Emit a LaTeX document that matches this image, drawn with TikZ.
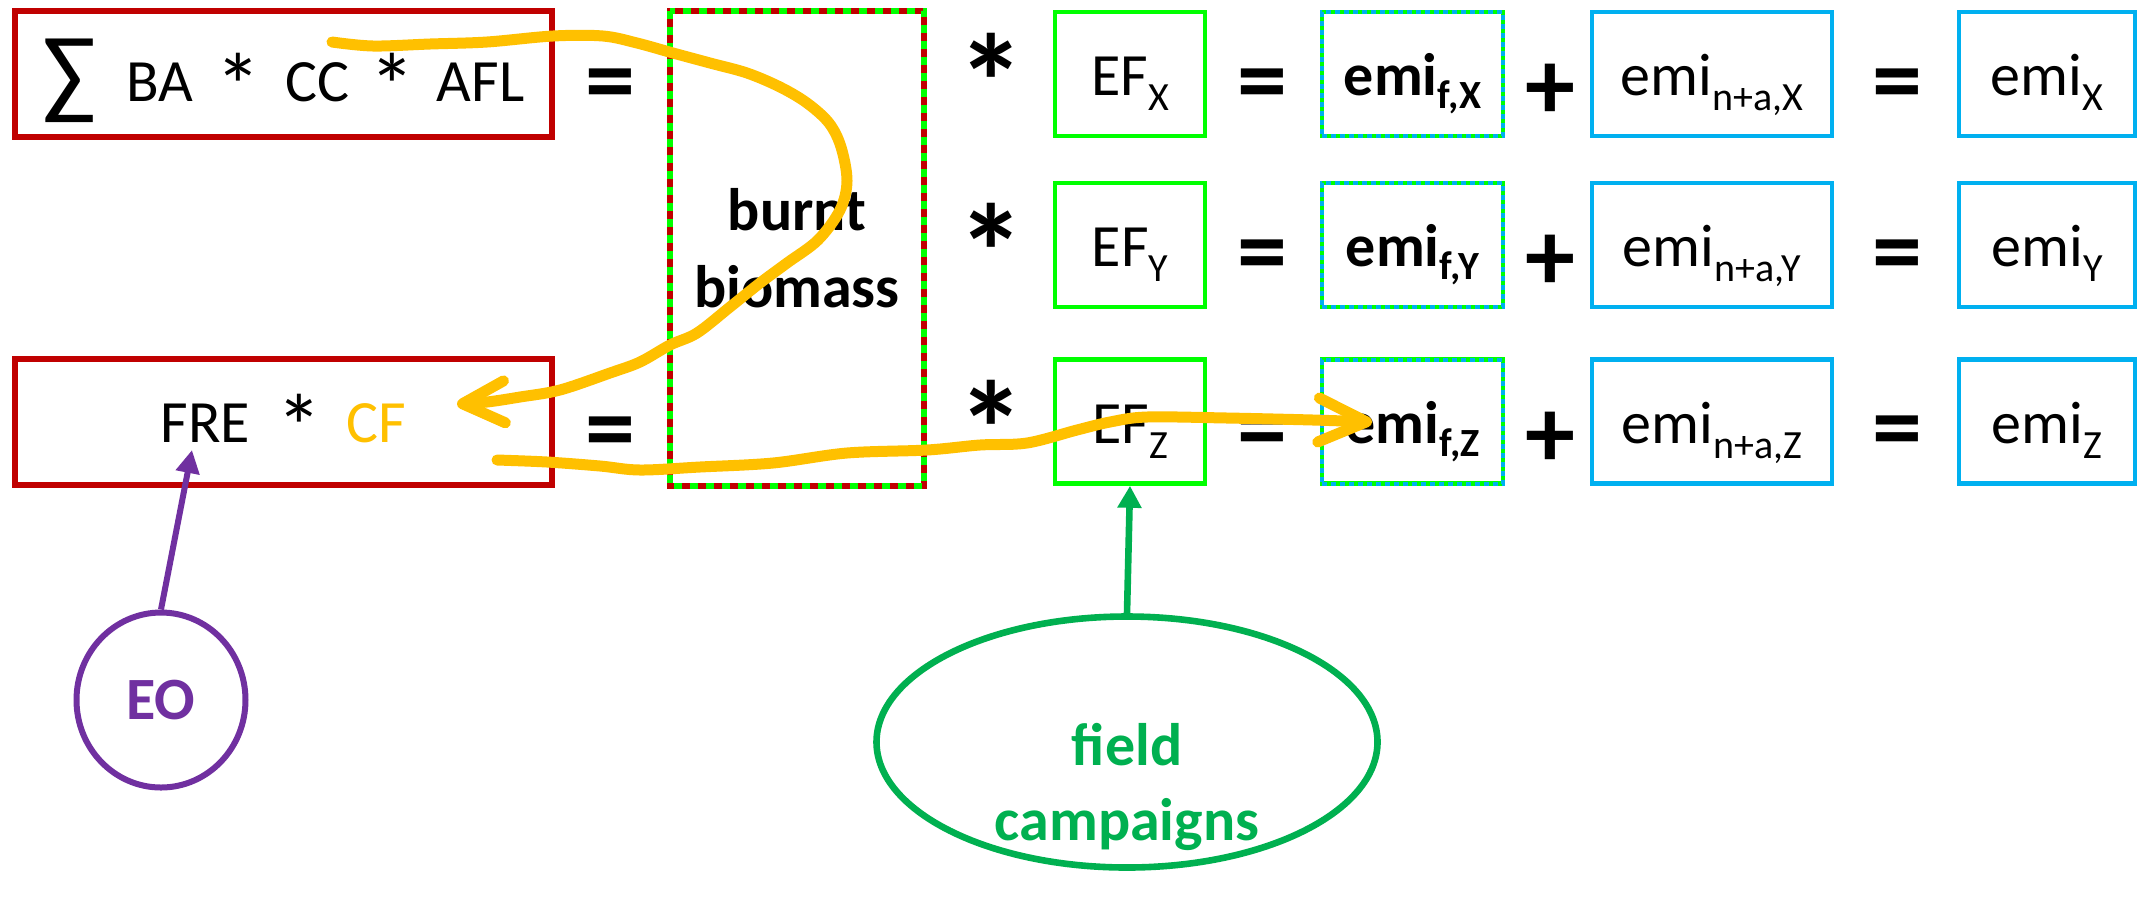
\documentclass[tikz,border=0pt]{standalone}
\usepackage{fontspec}
\setmainfont{Carlito}
\usetikzlibrary{arrows.meta,shapes.geometric}
\definecolor{rd}{HTML}{C00000}
\definecolor{ylw}{HTML}{FFC000}
\definecolor{lgr}{HTML}{00FF00}
\definecolor{blu}{HTML}{00B0F0}
\definecolor{prp}{HTML}{7030A0}
\definecolor{dgr}{HTML}{00B050}
\newcommand\sbs[2][7.5pt]{\raisebox{-#1}{\fontsize{20}{20}\selectfont #2}}
\newcommand\bigast{\raisebox{-8.5pt}{\fontsize{46}{46}\selectfont *}}
\newcommand\bigsum{\raisebox{-2.5pt}{\fontsize{50}{50}\selectfont ∑}}
\tikzset{
  txt/.style={font=\fontsize{30}{36}\selectfont, inner sep=0pt},
  redbox/.style={txt, draw=rd, line width=3.4pt, minimum width=268.5pt, minimum height=63pt},
  grbox/.style={txt, draw=lgr, line width=2.3pt, minimum height=62pt, text height=21.5pt, text depth=0pt},
  efbox/.style={grbox, minimum width=75pt},
  emifbox/.style={grbox, minimum width=90.5pt, font=\fontsize{30}{36}\selectfont\bfseries,
     postaction={draw=blu, line width=2pt, dash pattern=on 2.5pt off 2pt}},
  bluebox/.style={txt, draw=blu, line width=2.3pt, minimum height=62pt, text height=21.5pt, text depth=0pt},
  op/.style={inner sep=0pt, font=\fontsize{50}{50}\selectfont\bfseries},
  astop/.style={inner sep=0pt, anchor=base, font=\fontsize{68}{68}\selectfont\bfseries},
  ystroke/.style={draw=ylw, line width=5.5pt, line cap=round, line join=round},
  greendots/.style={draw=lgr, line width=3pt, dash pattern=on 4pt off 4pt},
}
\begin{document}
\begin{tikzpicture}[x=0.5pt,y=-0.5pt]
\useasboundingbox[fill=white] (0,0) rectangle (2156,907);

% left column
\node[redbox, text height=27.5pt, text depth=0pt] (A) at (283.5,74)
  {\bigsum\hspace{15pt}BA\hspace{11pt}\bigast\hspace{12pt}CC\hspace{10pt}\bigast\hspace{11pt}AFL};
\node[redbox, text height=20pt, text depth=0pt] (B) at (283.5,422)
  {FRE\hspace{13pt}\bigast\hspace{12.5pt}\textcolor{ylw}{CF}};
\node[op] (eqA) at (610,91) {=};
\node[op] (eqB) at (610,439) {=};

% burnt biomass
\node[draw=rd, line width=3.4pt, minimum width=127pt, minimum height=237.5pt, inner sep=0pt,
      align=center, font=\fontsize{30}{38.5}\selectfont\bfseries] (C) at (797,248.5) {burnt\\biomass};
\draw[greendots] ([xshift=1.5pt,yshift=-1.5pt]C.north west) rectangle ([xshift=-1.5pt,yshift=1.5pt]C.south east);

% rows
\node[astop] (m1) at (991,130) {*};
\node[astop] (m2) at (991,300) {*};
\node[astop] (m3) at (991,477) {*};

\node[efbox] (EFx) at (1130,74) {EF\sbs{X}};
\node[efbox] (EFy) at (1130,245) {EF\sbs{Y}};
\node[efbox] (EFz) at (1130,421.5) {EF\sbs{Z}};

\node[op] (e1) at (1262,91) {=};
\node[op] (e2) at (1262,262) {=};
\node[op] (e3) at (1262,438.5) {=};

\node[emifbox] (Fx) at (1412.5,74) {emi\sbs[6.5pt]{f,X}};
\node[emifbox] (Fy) at (1412.5,245) {emi\sbs[6.5pt]{f,Y}};
\node[emifbox] (Fz) at (1412.5,421.5) {emi\sbs[6.5pt]{f,Z}};

\node[op] (p1) at (1550,92) {+};
\node[op] (p2) at (1550,263) {+};
\node[op] (p3) at (1550,439.5) {+};

\node[bluebox, minimum width=120pt] (Nx) at (1712,74) {emi\sbs{n+a,X}};
\node[bluebox, minimum width=120pt] (Ny) at (1712,245) {emi\sbs{n+a,Y}};
\node[bluebox, minimum width=120pt] (Nz) at (1712,421.5) {emi\sbs{n+a,Z}};

\node[op] (q1) at (1897,91) {=};
\node[op] (q2) at (1897,262) {=};
\node[op] (q3) at (1897,438.5) {=};

\node[bluebox, minimum width=88pt] (Tx) at (2047,74) {emi\sbs{X}};
\node[bluebox, minimum width=88pt] (Ty) at (2047,245) {emi\sbs{Y}};
\node[bluebox, minimum width=88pt] (Tz) at (2047,421.5) {emi\sbs{Z}};

% sources
\node[ellipse, draw=prp, line width=3pt, minimum width=84.5pt, minimum height=87.5pt, inner sep=0pt,
      text=prp, font=\fontsize{30}{36}\selectfont\bfseries] (EO) at (161,700) {EO};
\coordinate (eotip) at (192,450);
\draw[prp, line width=3pt, -{Triangle[length=11.5pt,width=11.5pt]}] (EO.north) -- (eotip);

\node[ellipse, draw=dgr, line width=3.3pt, minimum width=250.5pt, minimum height=125.5pt, inner sep=0pt] (FC) at (1127,742) {};
\node[text=dgr, align=center, inner sep=0pt, font=\fontsize{30}{37.5}\selectfont\bfseries] (FCt) at (1127,787) {field\\campaigns};
\draw[dgr, line width=3.3pt, -{Triangle[length=11pt,width=11.5pt]}] (FC.north) -- (EFz.south);

% yellow strokes
\coordinate (ys1) at (332,42);
\coordinate (ye1) at (457,404);
\draw[ystroke, -{Straight Barb[length=21pt,width=21pt,round]}] plot[smooth, tension=0.55] coordinates {
  (ys1) (373,46) (430,44) (487,42) (553,36) (603,36) (637,43) (673,53) (710,63) (747,73) (780,87)
  (807,103) (829,123) (841,147) (847,181) (840,210) (818,240) (787,263) (760,283) (730,307)
  (697,333) (670,345) (640,362) (610,373) (560,390) (520,397) (487,402) (ye1)};
\coordinate (ys2) at (497,460);
\coordinate (ye2) at (1372,422);
\draw[ystroke, -{Straight Barb[length=24pt,width=22pt,round]}] plot[smooth, tension=0.55] coordinates {
  (ys2) (547,462) (600,466) (640,470) (700,467) (773,463) (847,453) (927,450) (980,445)
  (1027,443) (1077,430) (1110,422) (1147,417) (1227,418) (1313,420) (ye2)};
\end{tikzpicture}
\end{document}
